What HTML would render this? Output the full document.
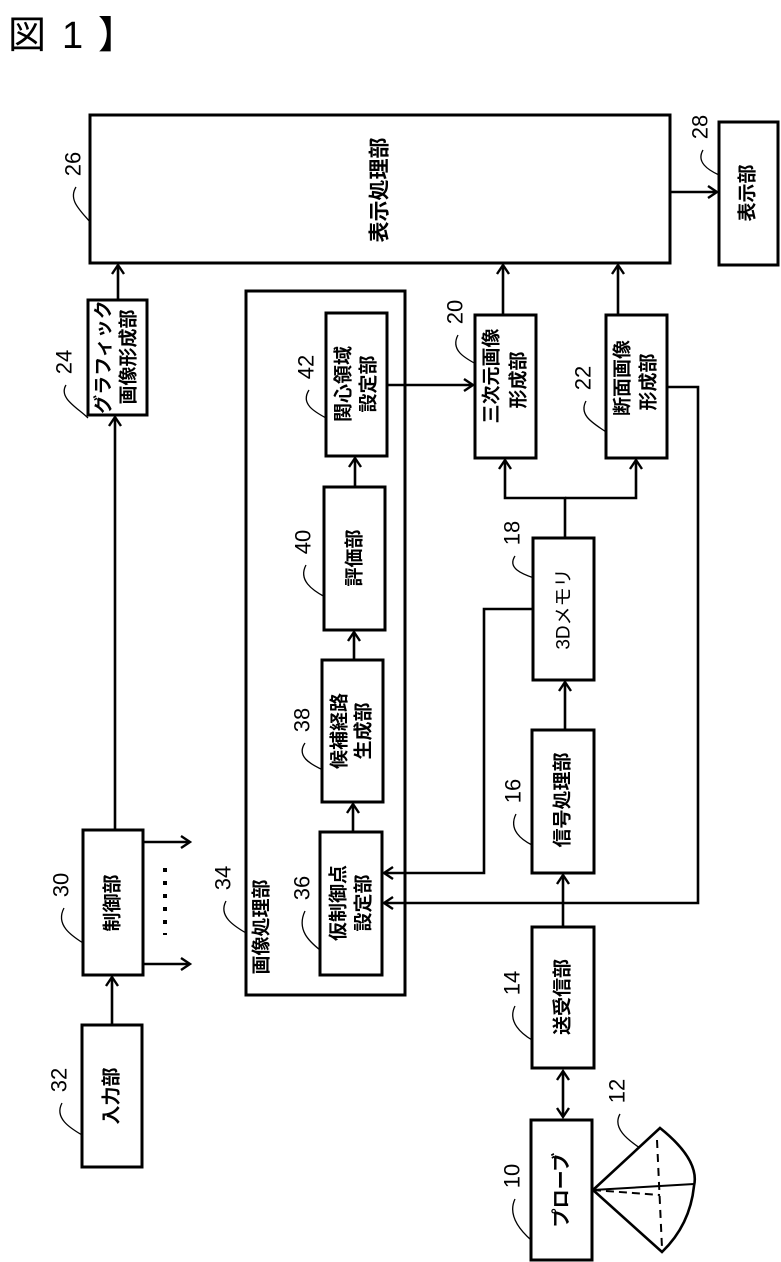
<!DOCTYPE html>
<html><head><meta charset="utf-8"><style>
html,body{margin:0;padding:0;background:#fff;}
svg{display:block;}
text{font-family:"Liberation Sans","Noto Sans CJK JP",sans-serif;fill:#000;}
.b{fill:none;stroke:#000;stroke-width:3;}
.l{fill:none;stroke:#000;stroke-width:2.6;}
.t{font-size:19px;font-weight:bold;}
.n{font-size:22px;}
.ld{fill:none;stroke:#000;stroke-width:1.3;}
</style></head><body>
<svg width="781" height="1262" viewBox="0 0 781 1262" xmlns="http://www.w3.org/2000/svg">
<defs>
<marker id="a" markerWidth="14" markerHeight="14" refX="11" refY="7" orient="auto" markerUnits="userSpaceOnUse">
<polyline points="2,1 11,7 2,13" fill="none" stroke="#000" stroke-width="2.4"/>
</marker>
<marker id="as" markerWidth="14" markerHeight="14" refX="3" refY="7" orient="auto" markerUnits="userSpaceOnUse">
<polyline points="12,1 3,7 12,13" fill="none" stroke="#000" stroke-width="2.4"/>
</marker>
</defs>
<text x="8" y="48" font-size="38">図</text>
<text x="62" y="48" font-size="38">1</text>
<text x="98" y="48" font-size="38">】</text>

<!-- boxes -->
<rect class="b" x="90" y="115" width="580" height="148"/>
<rect class="b" x="719" y="122" width="59" height="143"/>
<rect class="b" x="88" y="300" width="59" height="115"/>
<rect class="b" x="246" y="291" width="159" height="704"/>
<rect class="b" x="326" y="313" width="61" height="143"/>
<rect class="b" x="324" y="487" width="61" height="143"/>
<rect class="b" x="322" y="660" width="61" height="142"/>
<rect class="b" x="320" y="832" width="62" height="143"/>
<rect class="b" x="475" y="315" width="61" height="143"/>
<rect class="b" x="606" y="315" width="61" height="143"/>
<rect class="b" x="533" y="538" width="61" height="142"/>
<rect class="b" x="532" y="730" width="62" height="143"/>
<rect class="b" x="532" y="927" width="62" height="141"/>
<rect class="b" x="531" y="1120" width="61" height="140"/>
<rect class="b" x="83" y="830" width="60" height="145"/>
<rect class="b" x="82" y="1025" width="60" height="142"/>

<!-- connectors -->
<line class="l" x1="670" y1="192" x2="717" y2="192" marker-end="url(#a)"/>
<line class="l" x1="118" y1="300" x2="118" y2="265" marker-end="url(#a)"/>
<line class="l" x1="115" y1="830" x2="115" y2="417" marker-end="url(#a)"/>
<line class="l" x1="503" y1="315" x2="503" y2="265" marker-end="url(#a)"/>
<line class="l" x1="618" y1="315" x2="618" y2="265" marker-end="url(#a)"/>
<line class="l" x1="387" y1="385" x2="473" y2="385" marker-end="url(#a)"/>
<line class="l" x1="355" y1="487" x2="355" y2="458" marker-end="url(#a)"/>
<line class="l" x1="354" y1="660" x2="354" y2="632" marker-end="url(#a)"/>
<line class="l" x1="353" y1="832" x2="353" y2="804" marker-end="url(#a)"/>
<polyline class="l" points="565,538 565,498 505,498 505,460" marker-end="url(#a)"/>
<polyline class="l" points="565,498 636,498 636,460" marker-end="url(#a)"/>
<polyline class="l" points="533,609 484,609 484,873 384,873" marker-end="url(#a)"/>
<polyline class="l" points="667,387 698,387 698,903 384,903" marker-end="url(#a)"/>
<line class="l" x1="565" y1="730" x2="565" y2="682" marker-end="url(#a)"/>
<line class="l" x1="563" y1="927" x2="563" y2="875" marker-end="url(#a)"/>
<line class="l" x1="563" y1="1071" x2="563" y2="1117" marker-start="url(#as)" marker-end="url(#a)"/>
<line class="l" x1="143" y1="842" x2="190" y2="842" marker-end="url(#a)"/>
<line class="l" x1="143" y1="964" x2="190" y2="964" marker-end="url(#a)"/>
<line x1="165" y1="868" x2="165" y2="935" stroke="#000" stroke-width="4" stroke-dasharray="4,9"/>
<line class="l" x1="112" y1="1025" x2="112" y2="977" marker-end="url(#a)"/>

<!-- fan 12 -->
<path class="l" d="M593,1190 L660,1128 Q700,1160 694,1186 Q690,1225 662,1252 Z" stroke-width="2"/>
<line x1="593" y1="1190" x2="694" y2="1184" stroke="#000" stroke-width="2"/>
<line x1="657" y1="1140" x2="662" y2="1248" stroke="#000" stroke-width="2" stroke-dasharray="8,6"/>
<line x1="593" y1="1190" x2="660" y2="1195" stroke="#000" stroke-width="2" stroke-dasharray="8,5"/>

<!-- box texts -->
<g class="t">
<text transform="translate(380,190) rotate(-90)" text-anchor="middle" dominant-baseline="central" style="font-size:21px">表示処理部</text>
<text transform="translate(748,193) rotate(-90)" text-anchor="middle" dominant-baseline="central">表示部</text>
<text transform="translate(104,357) rotate(-90)" text-anchor="middle" dominant-baseline="central">グラフィック</text>
<text transform="translate(129,357) rotate(-90)" text-anchor="middle" dominant-baseline="central">画像形成部</text>
<text transform="translate(344,384) rotate(-90)" text-anchor="middle" dominant-baseline="central">関心領域</text>
<text transform="translate(369,384) rotate(-90)" text-anchor="middle" dominant-baseline="central">設定部</text>
<text transform="translate(355,558) rotate(-90)" text-anchor="middle" dominant-baseline="central">評価部</text>
<text transform="translate(340,731) rotate(-90)" text-anchor="middle" dominant-baseline="central">候補経路</text>
<text transform="translate(364,731) rotate(-90)" text-anchor="middle" dominant-baseline="central">生成部</text>
<text transform="translate(339,903) rotate(-90)" text-anchor="middle" dominant-baseline="central">仮制御点</text>
<text transform="translate(364,903) rotate(-90)" text-anchor="middle" dominant-baseline="central">設定部</text>
<text transform="translate(262,927) rotate(-90)" text-anchor="middle" dominant-baseline="central">画像処理部</text>
<text transform="translate(492,376) rotate(-90)" text-anchor="middle" dominant-baseline="central">三次元画像</text>
<text transform="translate(519,380) rotate(-90)" text-anchor="middle" dominant-baseline="central">形成部</text>
<text transform="translate(623,378) rotate(-90)" text-anchor="middle" dominant-baseline="central">断面画像</text>
<text transform="translate(649,382) rotate(-90)" text-anchor="middle" dominant-baseline="central">形成部</text>
<text transform="translate(564,609) rotate(-90)" text-anchor="middle" dominant-baseline="central" style="font-weight:normal">3Dメモリ</text>
<text transform="translate(563,800) rotate(-90)" text-anchor="middle" dominant-baseline="central">信号処理部</text>
<text transform="translate(563,997) rotate(-90)" text-anchor="middle" dominant-baseline="central">送受信部</text>
<text transform="translate(562,1190) rotate(-90)" text-anchor="middle" dominant-baseline="central">プローブ</text>
<text transform="translate(113,903) rotate(-90)" text-anchor="middle" dominant-baseline="central">制御部</text>
<text transform="translate(112,1096) rotate(-90)" text-anchor="middle" dominant-baseline="central">入力部</text>
</g>

<!-- reference numbers -->
<g class="n">
<text transform="translate(73,164) rotate(-90)" text-anchor="middle" dominant-baseline="central">26</text>
<text transform="translate(700,127) rotate(-90)" text-anchor="middle" dominant-baseline="central">28</text>
<text transform="translate(64,362) rotate(-90)" text-anchor="middle" dominant-baseline="central">24</text>
<text transform="translate(306,367) rotate(-90)" text-anchor="middle" dominant-baseline="central">42</text>
<text transform="translate(455,312) rotate(-90)" text-anchor="middle" dominant-baseline="central">20</text>
<text transform="translate(583,378) rotate(-90)" text-anchor="middle" dominant-baseline="central">22</text>
<text transform="translate(512,533) rotate(-90)" text-anchor="middle" dominant-baseline="central">18</text>
<text transform="translate(303,542) rotate(-90)" text-anchor="middle" dominant-baseline="central">40</text>
<text transform="translate(302,720) rotate(-90)" text-anchor="middle" dominant-baseline="central">38</text>
<text transform="translate(302,888) rotate(-90)" text-anchor="middle" dominant-baseline="central">36</text>
<text transform="translate(223,878) rotate(-90)" text-anchor="middle" dominant-baseline="central">34</text>
<text transform="translate(61,885) rotate(-90)" text-anchor="middle" dominant-baseline="central">30</text>
<text transform="translate(59,1080) rotate(-90)" text-anchor="middle" dominant-baseline="central">32</text>
<text transform="translate(513,791) rotate(-90)" text-anchor="middle" dominant-baseline="central">16</text>
<text transform="translate(512,983) rotate(-90)" text-anchor="middle" dominant-baseline="central">14</text>
<text transform="translate(512,1176) rotate(-90)" text-anchor="middle" dominant-baseline="central">10</text>
<text transform="translate(617,1091) rotate(-90)" text-anchor="middle" dominant-baseline="central">12</text>
</g>

<!-- leaders -->
<g class="ld">
<path d="M76,187 C68,200 80,210 90,222"/>
<path d="M703,150 C696,162 708,170 719,175"/>
<path d="M66,385 C58,398 78,408 88,418"/>
<path d="M309,390 C300,404 315,412 326,418"/>
<path d="M458,335 C450,350 465,358 476,364"/>
<path d="M586,401 C578,416 595,424 606,432"/>
<path d="M515,556 C507,568 522,574 534,578"/>
<path d="M306,565 C298,580 312,590 325,597"/>
<path d="M305,743 C296,756 310,764 323,770"/>
<path d="M305,911 C296,930 310,942 320,950"/>
<path d="M226,901 C218,916 234,926 246,933"/>
<path d="M64,908 C55,925 72,936 83,943"/>
<path d="M62,1103 C54,1118 70,1128 82,1135"/>
<path d="M516,814 C508,830 522,840 532,845"/>
<path d="M515,1006 C507,1022 522,1034 532,1040"/>
<path d="M515,1199 C507,1216 522,1232 531,1240"/>
<path d="M620,1114 C612,1128 628,1140 640,1148"/>
</g>
</svg>
</body></html>
